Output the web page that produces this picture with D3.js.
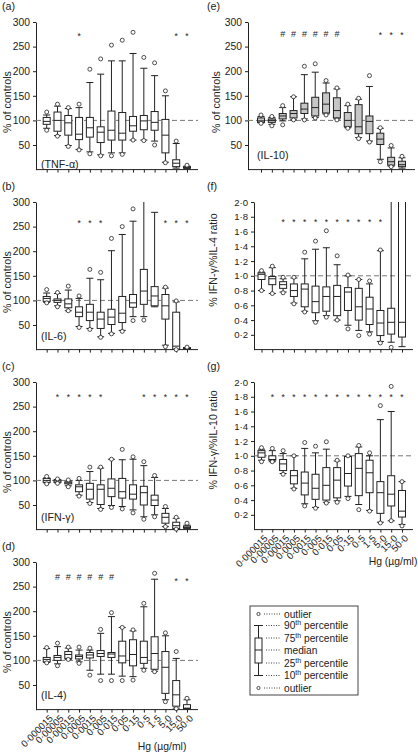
<!DOCTYPE html>
<html>
<head>
<meta charset="utf-8">
<script src="https://cdn.jsdelivr.net/npm/d3@7"></script>
<style>
  html, body { margin: 0; padding: 0; background: #fff; }
  svg { display: block; }
  text { font-family: "Liberation Sans", Arial, Helvetica, sans-serif; fill: #222; }
</style>
</head>
<body>
<svg id="chart" width="418" height="754"></svg>
<script>
// ---------------- DATA ----------------
const doses = ["0·000015","0·00005","0·00015","0·0005","0·0015","0·005","0·015","0·05","0·15","0·5","1·5","5·0","15·0","50·0"];
const percentTicks = [50, 100, 150, 200, 250, 300];
const ratioTicks = [0.2, 0.4, 0.6, 0.8, 1.0, 1.2, 1.4, 1.6, 1.8, 2.0];

// each row: [low outlier, 10th, 25th, median, 75th, 90th, high outlier]
const tnfAlpha = [
  [80, 84, 92, 98, 106, 111, 117],
  [68, 69, 78, 100, 117, 129, 133],
  [47, 49, 70, 95, 110, 124, 126],
  [40, 41, 61, 72, 106, 126, 133],
  [32, 36, 66, 85, 106, 177, 204],
  [28, 30, 55, 76, 87, 194, 225],
  [28, 34, 60, 80, 119, 221, 253],
  [31, 34, 60, 74, 116, 221, 263],
  [60, 60, 78, 89, 108, 236, 279],
  [59, 60, 81, 99, 110, 206, 228],
  [50, 58, 80, 96, 118, 191, 217],
  [14, 15, 34, 70, 102, 150, 160],
  [null, 3, 6, 13, 20, 53, 58],
  [null, 2, 3, 4, 6, 7, 9]
];
const il6 = [
  [95, 96, 98, 104, 108, 115, 122],
  [87, 89, 96, 100, 103, 114, 116],
  [79, 79, 85, 93, 103, 121, 129],
  [45, 47, 67, 76, 87, 104, 109],
  [41, 43, 59, 76, 92, 145, 163],
  [25, 26, 43, 62, 76, 142, 157],
  [32, 33, 51, 66, 82, 201, 226],
  [37, 39, 55, 74, 108, 234, 250],
  [59, 67, 86, 95, 112, 261, 286],
  [60, 67, 92, 119, 163, 320, null],
  [null, 87, 89, 109, 128, 279, null],
  [6, 9, 62, 89, 112, 125, 127],
  [0, 1, 1, 7, 76, 97, 99],
  [null, 2, 2, 3, 4, 4, 5]
];
const ifnGamma = [
  [93, 95, 96, 100, 104, 105, 108],
  [94, 95, 96, 99, 101, 102, 103],
  [87, 89, 93, 95, 97, 99, 101],
  [68, 70, 77, 87, 91, 100, 104],
  [53, 55, 62, 82, 94, 118, 127],
  [41, 43, 51, 82, 91, 125, 127],
  [45, 49, 67, 84, 103, 143, 143],
  [42, 47, 64, 77, 104, 142, 163],
  [34, 40, 62, 72, 91, 143, 148],
  [21, 26, 50, 75, 88, 130, 138],
  [26, 30, 49, 60, 70, 106, 110],
  [6, 6, 13, 25, 33, 43, 47],
  [1, 1, 2, 8, 15, 23, 25],
  [null, 2, 3, 4, 7, 9, 13]
];
const il4 = [
  [95, 96, 97, 102, 106, 124, 126],
  [89, 93, 100, 106, 110, 128, 135],
  [102, 102, 104, 112, 118, 125, 127],
  [94, 97, 103, 108, 111, 121, 127],
  [70, 80, 105, 111, 116, 121, 125],
  [59, 72, 108, 114, 120, 155, 163],
  [59, 72, 106, 113, 116, 189, 197],
  [59, 68, 95, 109, 139, 167, 167],
  [60, 67, 89, 112, 142, 160, 162],
  [80, 84, 94, 106, 139, 209, 216],
  [77, 78, 82, 114, 148, 265, 277],
  [16, 20, 33, 86, 118, 150, 156],
  [2, 3, 7, 30, 59, 104, 118],
  [null, 2, 2, 3, 10, 20, 23]
];
const il10 = [
  [94, 95, 96, 99, 105, 108, 111],
  [89, 92, 96, 100, 103, 106, 108],
  [91, 99, 103, 109, 114, 126, 130],
  [101, 101, 105, 114, 120, 148, 148],
  [101, 103, 114, 123, 135, 193, 210],
  [105, 106, 109, 126, 147, 198, 215],
  [111, 113, 115, 133, 156, 176, 181],
  [101, 103, 105, 120, 146, 164, 166],
  [84, 85, 87, 100, 116, 130, 133],
  [63, 65, 73, 87, 132, 143, 145],
  [56, 58, 73, 98, 109, 169, 191],
  [16, 21, 51, 62, 74, 84, 85],
  [6, 7, 9, 16, 25, 44, 49],
  [null, 3, 6, 10, 17, 24, 27]
];
const ratioIfnIl4 = [
  [0.80, 0.80, 0.95, 1.02, 1.04, 1.05, 1.07],
  [0.76, 0.76, 0.88, 0.96, 0.99, 1.11, 1.13],
  [0.77, 0.78, 0.83, 0.88, 0.92, 0.96, 0.98],
  [0.62, 0.63, 0.72, 0.80, 0.89, 0.97, 0.98],
  [0.51, 0.52, 0.58, 0.82, 0.89, 1.23, 1.32],
  [0.37, 0.39, 0.50, 0.65, 0.86, 1.36, 1.47],
  [0.44, 0.46, 0.52, 0.72, 0.85, 1.38, 1.61],
  [0.40, 0.40, 0.46, 0.72, 0.87, 1.15, 1.27],
  [0.28, 0.33, 0.53, 0.78, 0.84, 1.00, 1.01],
  [0.19, 0.26, 0.40, 0.58, 0.83, 0.95, 0.95],
  [0.21, 0.24, 0.34, 0.55, 0.71, 0.89, 0.93],
  [0.09, 0.11, 0.19, 0.36, 0.53, 1.34, 1.35],
  [0.03, 0.10, 0.21, 0.37, 0.56, 2.20, null],
  [null, 0.04, 0.17, 0.37, 2.20, 2.40, null]
];
const ratioIfnIl10 = [
  [0.92, 0.94, 0.98, 1.04, 1.07, 1.09, 1.11],
  [0.92, 0.92, 0.94, 0.95, 1.00, 1.07, 1.10],
  [0.75, 0.76, 0.80, 0.89, 0.95, 1.03, 1.07],
  [0.55, 0.56, 0.62, 0.73, 0.80, 1.00, 1.00],
  [0.32, 0.35, 0.47, 0.63, 0.78, 1.10, 1.18],
  [0.29, 0.30, 0.41, 0.56, 0.75, 1.04, 1.13],
  [0.36, 0.37, 0.40, 0.60, 0.84, 1.09, 1.19],
  [0.37, 0.39, 0.43, 0.67, 0.84, 0.93, 0.94],
  [0.42, 0.45, 0.59, 0.76, 0.99, 0.99, 1.00],
  [0.27, 0.34, 0.46, 0.83, 1.03, 1.12, 1.14],
  [0.25, 0.26, 0.50, 0.77, 0.94, 1.00, 1.04],
  [0.09, 0.10, 0.22, 0.50, 0.65, 1.49, 1.68],
  [0.12, 0.12, 0.32, 0.48, 0.73, 1.60, 1.94],
  [0.05, 0.07, 0.17, 0.25, 0.53, 0.65, 0.65]
];

// significance markers (dose indices)
const tnfStars = [3, 12, 13];
const il6Stars = [3, 4, 5, 11, 12, 13];
const ifnStars = [1, 2, 3, 4, 5, 9, 10, 11, 12, 13];
const il4Hashes = [1, 2, 3, 4, 5, 6];
const il4Stars = [12, 13];
const il10Hashes = [2, 3, 4, 5, 6, 7];
const il10Stars = [11, 12, 13];
const ratioIl4Stars = [2, 3, 4, 5, 6, 7, 8, 9, 10, 11];
const ratioIl10Stars = [1, 2, 3, 4, 5, 6, 7, 8, 9, 10, 11, 12, 13];

const legendLabels = [
  ["outlier", ""], ["90", "th percentile"], ["75", "th percentile"], ["median", ""],
  ["25", "th percentile"], ["10", "th percentile"], ["outlier", ""]
];

// ---------------- LAYOUT ----------------
const svg = d3.select("#chart");
const PLOT_H = 147.6;
const INK = "#222";
const FONT = 10.7;

const panels = [
  {letter: "(a)", name: "(TNF-α)", data: tnfAlpha, stars: tnfStars, hashes: [], kind: "pct",
   top: 22, axisX: 36, x0: 46.7, x1: 187, xEnd: 198, nameX: 41, nameY: 168, markY: 275, hashY: 275,
   yLabel: "% of controls", yLabelX: 11},
  {letter: "(b)", name: "(IL-6)", data: il6, stars: il6Stars, hashes: [], kind: "pct",
   top: 202, axisX: 36, x0: 46.7, x1: 187, xEnd: 198, nameX: 41, nameY: 340, markY: 261, hashY: 261,
   yLabel: "% of controls", yLabelX: 11},
  {letter: "(c)", name: "(IFN-γ)", data: ifnGamma, stars: ifnStars, hashes: [], kind: "pct",
   top: 382, axisX: 36, x0: 46.7, x1: 187, xEnd: 198, nameX: 41, nameY: 521, markY: 274, hashY: 274,
   yLabel: "% of controls", yLabelX: 11},
  {letter: "(d)", name: "(IL-4)", data: il4, stars: il4Stars, hashes: il4Hashes, kind: "pct",
   top: 562, axisX: 36, x0: 46.7, x1: 187, xEnd: 198, nameX: 41, nameY: 699, markY: 266, hashY: 270,
   yLabel: "% of controls", yLabelX: 11, xLabels: true, hgX: 162, hgY: 750},
  {letter: "(e)", name: "(IL-10)", data: il10, stars: il10Stars, hashes: il10Hashes, kind: "pct",
   top: 22, axisX: 248, x0: 261, x1: 402, xEnd: 415, nameX: 257, nameY: 159, markY: 277, hashY: 277,
   yLabel: "% of controls", yLabelX: 220, fill: "#c6c6c6"},
  {letter: "(f)", name: null, data: ratioIfnIl4, stars: ratioIl4Stars, hashes: [], kind: "ratio",
   top: 202, axisX: 254, x0: 261.5, x1: 402, xEnd: 413, markY: 1.75, hashY: 1.75,
   yLabel: "% IFN-γ/%IL-4 ratio", yLabelX: 217},
  {letter: "(g)", name: null, data: ratioIfnIl10, stars: ratioIl10Stars, hashes: [], kind: "ratio",
   top: 382, axisX: 254, x0: 261.5, x1: 402, xEnd: 413, markY: 1.82, hashY: 1.82,
   yLabel: "% IFN-γ/%IL-10 ratio", yLabelX: 217, xLabels: true, hgX: 393, hgY: 565}
];

const fmtRatio = d => d.toFixed(1).replace(".", "·");

panels.forEach((p, pi) => {
  const isPct = p.kind === "pct";
  const y = d3.scaleLinear()
    .domain([0, isPct ? 300 : 2.0])
    .range([p.top + PLOT_H, p.top]);
  const x = d3.scalePoint().domain(doses).range([p.x0, p.x1]);
  const g = svg.append("g");
  const baseY = y(0);

  // panel letter
  g.append("text").attr("x", p.axisX < 100 ? 2 : 207).attr("y", p.top - 12)
    .attr("font-size", FONT).text(p.letter);

  // y axis label
  const midY = p.top + (isPct ? 80 : 58);
  g.append("text")
    .attr("transform", `translate(${p.yLabelX},${midY}) rotate(-90)`)
    .attr("text-anchor", "middle").attr("font-size", FONT).text(p.yLabel);

  // y axis
  const yAxis = d3.axisLeft(y)
    .tickValues(isPct ? percentTicks : ratioTicks)
    .tickSize(3).tickSizeOuter(0).tickPadding(3)
    .tickFormat(isPct ? d3.format("d") : fmtRatio);
  const ya = g.append("g").attr("transform", `translate(${p.axisX},0)`).call(yAxis);
  ya.select(".domain").attr("stroke", INK);
  ya.selectAll(".tick line").attr("stroke", INK);
  ya.selectAll(".tick text").attr("font-size", isPct ? 10.3 : 9.6).attr("fill", INK)
    .style("font-family", '"Liberation Sans", Arial, sans-serif');

  // x axis
  const xAxis = d3.axisBottom(x).tickSize(3).tickSizeOuter(0)
    .tickFormat(p.xLabels ? (d => d) : (() => ""));
  const xa = g.append("g").attr("transform", `translate(0,${baseY})`).call(xAxis);
  xa.select(".domain").remove();
  xa.selectAll(".tick line").attr("stroke", INK);
  xa.append("line").attr("x1", p.axisX).attr("x2", p.xEnd).attr("y1", 0).attr("y2", 0)
    .attr("stroke", INK);
  if (p.xLabels) {
    xa.selectAll(".tick text")
      .attr("font-size", 9.6).attr("fill", INK)
      .style("font-family", '"Liberation Sans", Arial, sans-serif')
      .attr("text-anchor", "end").attr("x", 0).attr("y", 0).attr("dy", "0.35em")
      .attr("transform", "translate(4,7) rotate(-45)");
    g.append("text").attr("x", p.hgX).attr("y", p.hgY).attr("text-anchor", "middle")
      .attr("font-size", 10.4).text("Hg (µg/ml)");
  }

  // reference dashed line
  g.append("line").attr("x1", p.axisX).attr("x2", p.xEnd)
    .attr("y1", y(isPct ? 100 : 1.0)).attr("y2", y(isPct ? 100 : 1.0))
    .attr("stroke", "#777").attr("stroke-dasharray", "5,3");

  // clip for boxes
  const clipId = "clip" + pi;
  svg.append("clipPath").attr("id", clipId).append("rect")
    .attr("x", p.axisX).attr("y", p.top).attr("width", p.xEnd - p.axisX).attr("height", PLOT_H + 6);
  const bg = g.append("g").attr("clip-path", `url(#${clipId})`);
  const bw = 7, cw = 7;
  p.data.forEach((r, i) => {
    const cx = x(doses[i]);
    const [lo, p10, q1, med, q3, p90, hi] = r;
    const b = bg.append("g").attr("stroke", INK).attr("stroke-width", 1).attr("fill", "none");
    b.append("line").attr("x1", cx).attr("x2", cx).attr("y1", y(p10)).attr("y2", y(q1));
    b.append("line").attr("x1", cx).attr("x2", cx).attr("y1", y(q3)).attr("y2", y(p90));
    b.append("line").attr("x1", cx - cw / 2).attr("x2", cx + cw / 2).attr("y1", y(p10)).attr("y2", y(p10));
    b.append("line").attr("x1", cx - cw / 2).attr("x2", cx + cw / 2).attr("y1", y(p90)).attr("y2", y(p90));
    b.append("rect").attr("x", cx - bw / 2).attr("width", bw)
      .attr("y", y(q3)).attr("height", Math.max(0.5, y(q1) - y(q3)))
      .attr("fill", p.fill || "#fff");
    b.append("line").attr("x1", cx - bw / 2).attr("x2", cx + bw / 2).attr("y1", y(med)).attr("y2", y(med));
    [lo, hi].forEach(o => {
      if (o !== null) {
        b.append("circle").attr("cx", cx).attr("cy", y(o)).attr("r", 2)
          .attr("fill", "#fff").attr("stroke-width", 0.8);
      }
    });
  });

  // significance markers
  p.stars.forEach(i => {
    g.append("text").attr("x", x(doses[i])).attr("y", y(p.markY) + 5)
      .attr("text-anchor", "middle").attr("font-size", 8.5).attr("fill", "#111").text("*");
  });
  p.hashes.forEach(i => {
    g.append("text").attr("x", x(doses[i])).attr("y", y(p.hashY) + 3.5)
      .attr("text-anchor", "middle").attr("font-size", 9).attr("fill", "#111").text("#");
  });

  // cytokine label
  if (p.name) {
    g.append("text").attr("x", p.nameX).attr("y", p.nameY).attr("font-size", FONT).text(p.name);
  }
});

// ---------------- LEGEND ----------------
const lg = svg.append("g");
lg.append("rect").attr("x", 250).attr("y", 606).attr("width", 108).attr("height", 89)
  .attr("fill", "none").attr("stroke", "#444");
const rowsY = [614, 625.5, 638, 650, 663, 675.5, 688];
const gx = 258.5;
const lgs = lg.append("g").attr("stroke", INK).attr("fill", "none");
lgs.append("circle").attr("cx", gx).attr("cy", rowsY[0]).attr("r", 1.6).attr("stroke-width", 0.8);
lgs.append("circle").attr("cx", gx).attr("cy", rowsY[6]).attr("r", 1.6).attr("stroke-width", 0.8);
lgs.append("line").attr("x1", gx - 4.5).attr("x2", gx + 4.5).attr("y1", rowsY[1]).attr("y2", rowsY[1]);
lgs.append("line").attr("x1", gx - 4.5).attr("x2", gx + 4.5).attr("y1", rowsY[5]).attr("y2", rowsY[5]);
lgs.append("line").attr("x1", gx).attr("x2", gx).attr("y1", rowsY[1]).attr("y2", rowsY[2]);
lgs.append("line").attr("x1", gx).attr("x2", gx).attr("y1", rowsY[4]).attr("y2", rowsY[5]);
lgs.append("rect").attr("x", gx - 3.5).attr("y", rowsY[2]).attr("width", 7).attr("height", rowsY[4] - rowsY[2]);
lgs.append("line").attr("x1", gx - 3.5).attr("x2", gx + 3.5).attr("y1", rowsY[3]).attr("y2", rowsY[3]);
legendLabels.forEach((lab, i) => {
  const ly = rowsY[i];
  const startX = (i === 0 || i === 6) ? 264 : 266;
  lg.append("line").attr("x1", startX).attr("x2", 281).attr("y1", ly).attr("y2", ly)
    .attr("stroke", "#444").attr("stroke-dasharray", "1,1.5");
  const t = lg.append("text").attr("x", 284).attr("y", ly + 3.6).attr("font-size", 10.2);
  if (lab[1] === "") {
    t.text(lab[0]);
  } else {
    t.append("tspan").text(lab[0]);
    t.append("tspan").attr("font-size", 7).attr("dy", -4).text("th");
    t.append("tspan").attr("dy", 4).text(lab[1].slice(2));
  }
});
</script>
</body>
</html>
